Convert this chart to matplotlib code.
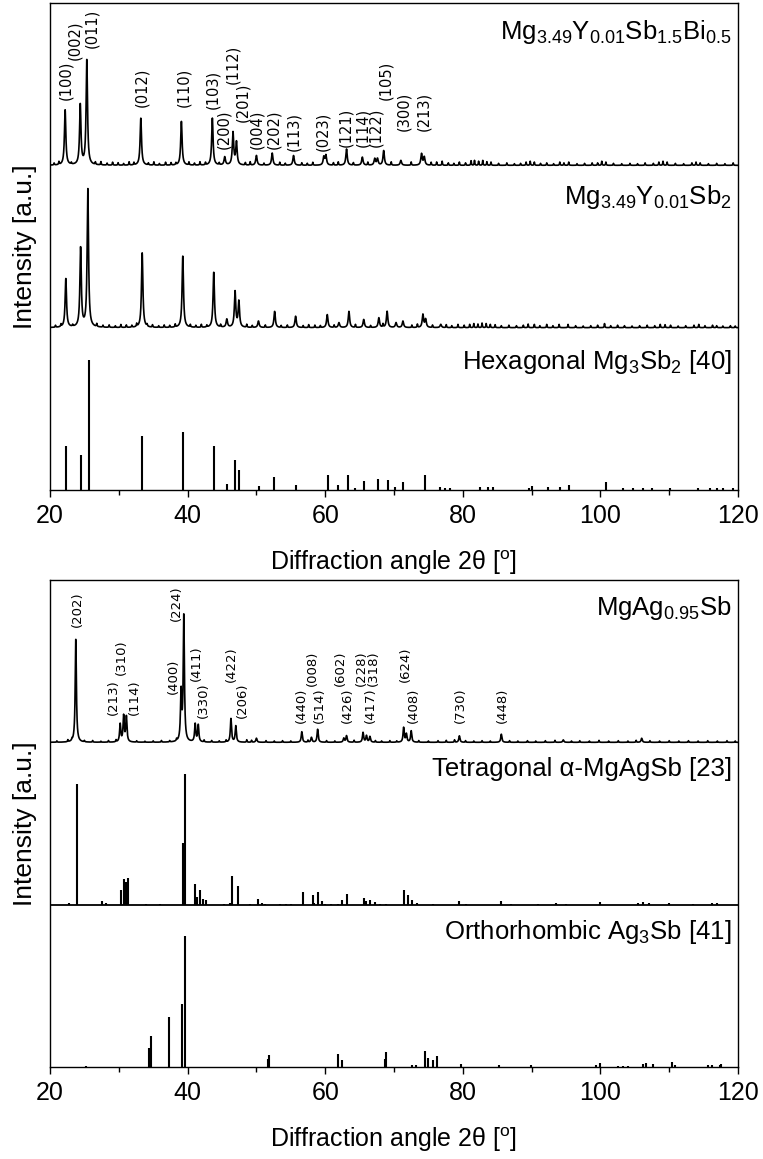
import numpy as np
import matplotlib
matplotlib.use("Agg")
import matplotlib.pyplot as plt

plt.rcParams['font.family'] = ['Liberation Sans', 'DejaVu Sans']
plt.rcParams['mathtext.fontset'] = 'custom'
plt.rcParams['mathtext.rm'] = 'Liberation Sans'
plt.rcParams['mathtext.it'] = 'Liberation Sans:italic'
plt.rcParams['mathtext.bf'] = 'Liberation Sans:bold'

# ---------------- data: top panel ----------------
# Mg3.49Y0.01Sb1.5Bi0.5 (measured)
bi_pos = [22.2, 24.4, 25.35, 33.2, 39.1, 43.6, 45.4, 46.6, 47.1, 50.0, 52.3, 55.4,
          59.8, 60.1, 63.1, 65.4, 67.2, 67.6, 68.5, 71.0, 74.0, 74.4]
bi_h = [0.34, 0.37, 0.65, 0.29, 0.27, 0.29, 0.05, 0.20, 0.14, 0.06, 0.075, 0.06,
        0.05, 0.06, 0.10, 0.05, 0.04, 0.04, 0.09, 0.03, 0.07, 0.05]
bi_noise_pos = [20.6, 21.3, 23.1, 26.6, 27.4, 28.3, 29.1, 29.9, 30.7, 31.5,
                32.2, 34.3, 35.1, 35.9, 36.8, 37.6, 38.3, 40.2, 41.0, 41.8,
                42.6, 44.6, 48.4, 49.1, 51.1, 53.4, 54.2, 56.6, 57.4, 58.2,
                61.2, 61.9, 64.1, 66.2, 69.6, 72.5, 75.4, 76.2, 77.0, 77.9,
                78.7, 79.5, 80.4, 81.2, 81.7, 82.3, 82.9, 83.5, 84.1, 85.2,
                86.4, 87.5, 88.4, 89.2, 89.8, 90.4, 91.3, 92.2, 93.2, 94.1,
                94.7, 95.4, 96.6, 97.7, 98.8, 99.6, 100.2, 100.8, 101.9, 103.1,
                104.3, 105.4, 106.5, 107.7, 108.5, 109.1, 109.7, 110.9, 112.1, 113.3,
                113.9, 114.5, 115.7, 116.9, 118.1, 119.3]
bi_noise_h = [0.012, 0.018, 0.010, 0.015, 0.020, 0.012, 0.018, 0.015, 0.010, 0.020,
              0.015, 0.012, 0.020, 0.010, 0.018, 0.015, 0.012, 0.018, 0.012, 0.020,
              0.015, 0.012, 0.015, 0.020, 0.012, 0.018, 0.012, 0.015, 0.012, 0.018,
              0.015, 0.020, 0.015, 0.018, 0.020, 0.020, 0.018, 0.020, 0.025, 0.015,
              0.012, 0.020, 0.015, 0.028, 0.030, 0.025, 0.030, 0.022, 0.020, 0.012,
              0.015, 0.010, 0.012, 0.020, 0.025, 0.020, 0.012, 0.015, 0.010, 0.020,
              0.015, 0.020, 0.010, 0.012, 0.015, 0.015, 0.025, 0.020, 0.012, 0.010,
              0.012, 0.010, 0.015, 0.012, 0.020, 0.025, 0.020, 0.012, 0.010, 0.015,
              0.020, 0.015, 0.010, 0.012, 0.010, 0.015]

# Mg3.49Y0.01Sb2 (measured)
sb_pos = [22.3, 24.45, 25.5, 33.4, 39.3, 43.8, 45.7, 46.9, 47.45, 50.3, 52.65, 55.7,
          60.3, 62.0, 63.45, 65.6, 67.8, 69.0, 70.3, 71.3, 74.2, 74.6, 76.8]
sb_h = [0.30, 0.49, 0.85, 0.46, 0.44, 0.34, 0.05, 0.22, 0.16, 0.04, 0.10, 0.07,
        0.08, 0.03, 0.10, 0.05, 0.06, 0.10, 0.03, 0.04, 0.08, 0.05, 0.02]
sb_noise_pos = [20.8, 21.6, 23.3, 26.8, 27.7, 28.6, 29.5, 30.3, 31.1, 31.9,
                32.6, 34.1, 34.9, 35.8, 36.6, 37.4, 38.2, 40.4, 41.2, 42.0,
                42.8, 44.8, 48.6, 49.4, 51.3, 53.6, 54.5, 56.8, 57.6, 58.5,
                59.3, 61.3, 64.4, 66.6, 68.4, 72.6, 73.4, 75.6, 77.6, 78.4,
                79.3, 80.2, 81.0, 81.6, 82.2, 82.8, 83.4, 84.0, 84.7, 85.6,
                86.7, 87.8, 88.8, 89.5, 90.4, 91.2, 92.2, 93.1, 94.0, 95.3,
                96.4, 97.5, 98.6, 99.6, 100.6, 101.5, 102.5, 103.5, 104.6, 105.7,
                106.8, 107.9, 108.7, 109.4, 110.2, 111.3, 112.4, 113.6, 114.3, 115.2,
                116.3, 116.9, 117.8, 118.9, 119.6]
sb_noise_h = [0.012, 0.015, 0.010, 0.018, 0.012, 0.015, 0.010, 0.018, 0.015, 0.012,
              0.018, 0.012, 0.015, 0.010, 0.015, 0.012, 0.018, 0.015, 0.012, 0.018,
              0.012, 0.015, 0.018, 0.012, 0.015, 0.012, 0.015, 0.012, 0.018, 0.015,
              0.012, 0.015, 0.018, 0.012, 0.020, 0.015, 0.020, 0.015, 0.018, 0.012,
              0.020, 0.015, 0.020, 0.025, 0.022, 0.028, 0.025, 0.020, 0.018, 0.012,
              0.015, 0.012, 0.015, 0.022, 0.020, 0.012, 0.020, 0.012, 0.020, 0.020,
              0.012, 0.010, 0.012, 0.015, 0.025, 0.012, 0.015, 0.012, 0.010, 0.012,
              0.015, 0.012, 0.020, 0.018, 0.015, 0.010, 0.012, 0.015, 0.020, 0.012,
              0.015, 0.012, 0.010, 0.012, 0.010]

# Hexagonal Mg3Sb2 reference [40]
hex_pos = [22.3, 24.5, 25.6, 33.3, 39.3, 43.8, 45.7, 46.9, 47.4, 50.4, 52.6, 55.8,
           60.4, 61.9, 63.3, 64.3, 65.7, 67.7, 69.1, 70.1, 71.3, 74.5, 76.7, 77.4,
           78.1, 82.5, 83.7, 84.4, 89.6, 90.0, 92.4, 94.1, 95.4, 100.8, 103.3, 104.7,
           106.2, 107.5, 110.1, 114.2, 115.9, 116.9, 117.8, 119.3]
hex_h = [0.27, 0.215, 0.80, 0.33, 0.36, 0.27, 0.04, 0.185, 0.125, 0.025, 0.08, 0.03,
         0.095, 0.03, 0.095, 0.01, 0.055, 0.065, 0.06, 0.02, 0.05, 0.09, 0.02, 0.015,
         0.01, 0.02, 0.02, 0.02, 0.015, 0.025, 0.02, 0.02, 0.03, 0.05, 0.01, 0.01,
         0.01, 0.01, 0.015, 0.01, 0.01, 0.01, 0.01, 0.015]

top_lbl = ['(100)', '(002)', '(011)', '(012)', '(110)', '(103)', '(200)', '(112)',
           '(201)', '(004)', '(202)', '(113)', '(023)', '(121)', '(114)', '(122)',
           '(105)', '(300)', '(213)']
top_lbl_x = [22.3, 23.6, 26.1, 33.4, 39.4, 43.7, 45.3, 46.6, 48.0, 50.1, 52.5, 55.4,
             59.6, 63.0, 65.4, 67.4, 68.8, 71.4, 74.3]
top_lbl_y = [2.40, 2.65, 2.72, 2.36, 2.36, 2.35, 2.10, 2.50, 2.27, 2.10, 2.10, 2.09,
             2.09, 2.11, 2.11, 2.11, 2.40, 2.21, 2.21]

# ---------------- data: bottom panel ----------------
# MgAg0.95Sb (measured)
mg_pos = [23.75, 30.2, 30.7, 31.1, 39.05, 39.45, 41.1, 41.55, 46.3, 47.0, 50.0, 56.6,
          58.0, 58.9, 62.7, 63.1, 65.5, 66.0, 66.5, 71.4, 71.8, 72.5, 79.5, 85.6,
          94.6, 106.0]
mg_h = [0.64, 0.11, 0.16, 0.155, 0.30, 0.78, 0.11, 0.105, 0.145, 0.10, 0.025, 0.065,
        0.03, 0.08, 0.025, 0.04, 0.06, 0.04, 0.035, 0.09, 0.05, 0.07, 0.04, 0.05,
        0.015, 0.025]
mg_noise_pos = [21.0, 22.6, 23.2, 25.0, 26.2, 27.4, 28.5, 29.6, 32.6, 33.8,
                35.0, 36.2, 37.4, 38.4, 42.4, 43.5, 44.6, 45.6, 48.6, 49.3,
                51.4, 52.6, 53.8, 55.0, 57.5, 60.2, 61.4, 64.2, 67.3, 68.2,
                69.4, 70.4, 73.6, 75.0, 76.4, 77.6, 78.8, 80.4, 81.6, 82.8,
                84.0, 86.8, 88.0, 89.4, 90.6, 92.0, 93.4, 95.8, 97.0, 98.4,
                99.8, 101.2, 102.6, 104.0, 105.2, 107.2, 108.6, 110.0, 111.4, 112.8,
                114.2, 115.6, 117.0, 118.4, 119.6]
mg_noise_h = [0.008, 0.012, 0.010, 0.008, 0.010, 0.006, 0.010, 0.012, 0.008, 0.006,
              0.008, 0.010, 0.008, 0.012, 0.012, 0.010, 0.008, 0.012, 0.015, 0.012,
              0.010, 0.008, 0.010, 0.008, 0.012, 0.010, 0.008, 0.012, 0.010, 0.008,
              0.010, 0.008, 0.010, 0.008, 0.010, 0.012, 0.015, 0.010, 0.008, 0.010,
              0.008, 0.010, 0.008, 0.010, 0.008, 0.010, 0.012, 0.008, 0.010, 0.008,
              0.012, 0.008, 0.010, 0.008, 0.012, 0.010, 0.008, 0.010, 0.008, 0.010,
              0.008, 0.010, 0.008, 0.010, 0.008]

# Tetragonal alpha-MgAgSb reference [23]
tet_pos = [22.8, 23.9, 27.5, 28.1, 30.3, 30.8, 31.0, 31.4, 34.0, 36.0, 39.3, 39.65,
           41.1, 41.4, 41.8, 42.2, 42.7, 45.3, 46.1, 46.5, 47.3, 49.1, 50.3, 50.8,
           51.2, 53.5, 54.3, 55.0, 56.8, 58.2, 58.4, 59.0, 59.5, 60.0, 60.8, 61.8,
           62.5, 63.1, 65.6, 65.9, 66.5, 67.2, 68.0, 68.9, 71.5, 72.1, 72.6, 73.3,
           75.7, 79.4, 80.5, 85.5, 87.0, 91.0, 93.6, 95.0, 99.9, 105.5, 106.2, 107.0,
           110.0, 113.5, 116.2, 117.0]
tet_h = [0.012, 0.745, 0.02, 0.01, 0.09, 0.16, 0.14, 0.165, 0.005, 0.005, 0.38, 0.805,
         0.13, 0.05, 0.09, 0.035, 0.03, 0.005, 0.01, 0.175, 0.115, 0.005, 0.037, 0.012,
         0.006, 0.005, 0.005, 0.005, 0.078, 0.058, 0.01, 0.08, 0.02, 0.005, 0.005, 0.005,
         0.03, 0.068, 0.04, 0.02, 0.03, 0.018, 0.005, 0.005, 0.09, 0.06, 0.03, 0.01,
         0.005, 0.02, 0.005, 0.02, 0.005, 0.005, 0.008, 0.005, 0.015, 0.01, 0.015, 0.01,
         0.008, 0.005, 0.008, 0.01]

# Orthorhombic Ag3Sb reference [41]
ag_pos = [25.2, 34.4, 34.7, 37.3, 39.25, 39.6, 47.0, 50.2, 51.7, 51.9, 56.4, 57.8,
          59.3, 61.8, 62.4, 63.5, 65.0, 66.0, 68.65, 68.9, 72.6, 73.2, 74.5, 75.0,
          75.6, 76.3, 79.7, 85.3, 89.9, 99.4, 99.9, 102.5, 103.3, 104.0, 106.2, 106.7,
          107.6, 110.4, 110.8, 115.7, 116.2, 117.4, 117.6]
ag_h = [0.005, 0.117, 0.19, 0.31, 0.39, 0.805, 0.003, 0.003, 0.052, 0.077, 0.003, 0.003,
        0.003, 0.08, 0.045, 0.003, 0.003, 0.003, 0.05, 0.095, 0.01, 0.015, 0.10, 0.055,
        0.045, 0.07, 0.02, 0.012, 0.01, 0.012, 0.025, 0.005, 0.005, 0.005, 0.02, 0.025,
        0.02, 0.03, 0.015, 0.01, 0.01, 0.015, 0.02]

bot_lbl = ['(202)', '(213)', '(310)', '(114)', '(400)', '(224)', '(411)', '(330)',
           '(422)', '(206)', '(440)', '(008)', '(514)', '(602)', '(426)', '(228)',
           '(318)', '(417)', '(624)', '(408)', '(730)', '(448)']
bot_lbl_x = [24.0, 29.2, 30.4, 32.2, 37.9, 38.3, 41.3, 42.3, 46.3, 48.0, 56.6, 58.2,
             59.2, 62.2, 63.2, 65.2, 67.0, 66.5, 71.6, 72.8, 79.6, 85.7]
bot_lbl_y = [2.71, 2.17, 2.415, 2.17, 2.30, 2.75, 2.38, 2.15, 2.37, 2.15, 2.12, 2.35,
             2.12, 2.35, 2.12, 2.35, 2.35, 2.12, 2.37, 2.12, 2.12, 2.12]

# ---------------- drawing ----------------
x = np.linspace(20, 120, 5001)


def profile(pos, h, gamma):
    y = np.zeros_like(x)
    for p, a in zip(pos, h):
        y += a / (1.0 + ((x - p) / gamma) ** 2)
    return y


W, H = 763, 1159
fig = plt.figure(figsize=(W / 100, H / 100), dpi=100)
ax1 = fig.add_axes([50 / W, (H - 490) / H, 688 / W, 487 / H])
ax2 = fig.add_axes([50 / W, (H - 1067) / H, 688 / W, 487 / H])

xlabel = "Diffraction angle 2θ [$^{\\rm o}$]"

for ax in (ax1, ax2):
    ax.set_xlim(20, 120)
    ax.set_ylim(0, 3)
    ax.set_xticks([20, 40, 60, 80, 100, 120])
    ax.set_xticks([30, 50, 70, 90, 110], minor=True)
    ax.set_yticks([])
    ax.tick_params(axis='x', which='major', direction='out', length=5, width=1.0,
                   labelsize=18, pad=5)
    ax.tick_params(axis='x', which='minor', direction='out', length=3.3, width=1.0)
    for s in ax.spines.values():
        s.set_linewidth(1.0)
    ax.set_xlabel(xlabel, fontsize=18)
    ax.xaxis.set_label_coords(0.5, -0.12)
    ax.set_ylabel("Intensity [a.u.]", fontsize=19)
    ax.yaxis.set_label_coords(-0.019, 0.5)

# top panel
y_bi = 2 + profile(bi_pos, bi_h, 0.12) + profile(bi_noise_pos, bi_noise_h, 0.05)
y_sb = 1 + profile(sb_pos, sb_h, 0.12) + profile(sb_noise_pos, sb_noise_h, 0.05)
ax1.plot(x, y_bi, color='black', lw=1.2)
ax1.plot(x, y_sb, color='black', lw=1.2)
ax1.vlines(hex_pos, 0, hex_h, color='black', lw=1.5)

for t, lx, ly in zip(top_lbl, top_lbl_x, top_lbl_y):
    ax1.text(lx, ly, t, rotation=90, ha='center', va='bottom', fontsize=10.5,
             family=['DejaVu Sans'])

ax1.text(119.1, 2.78, r"Mg$_{3.49}$Y$_{0.01}$Sb$_{1.5}$Bi$_{0.5}$", ha='right',
         va='baseline', fontsize=18.5)
ax1.text(119.1, 1.76, r"Mg$_{3.49}$Y$_{0.01}$Sb$_{2}$", ha='right',
         va='baseline', fontsize=18.5)
ax1.text(119.1, 0.745, r"Hexagonal Mg$_{3}$Sb$_{2}$ [40]", ha='right',
         va='baseline', fontsize=18.5)

# bottom panel
y_mg = 2 + profile(mg_pos, mg_h, 0.1) + profile(mg_noise_pos, mg_noise_h, 0.05)
ax2.plot(x, y_mg, color='black', lw=1.2)
ax2.hlines(1, 20, 120, color='black', lw=1.3)
ax2.vlines(tet_pos, 1, [1 + v for v in tet_h], color='black', lw=1.5)
ax2.vlines(ag_pos, 0, ag_h, color='black', lw=1.5)

for t, lx, ly in zip(bot_lbl, bot_lbl_x, bot_lbl_y):
    ax2.text(lx, ly, t, rotation=90, ha='center', va='bottom', fontsize=9.5,
             family=['DejaVu Sans'])

ax2.text(119.1, 2.785, r"MgAg$_{0.95}$Sb", ha='right', va='baseline', fontsize=18.5)
ax2.text(119.1, 1.79, "Tetragonal α-MgAgSb [23]", ha='right', va='baseline',
         fontsize=18.5)
ax2.text(119.1, 0.79, r"Orthorhombic Ag$_{3}$Sb [41]", ha='right', va='baseline',
         fontsize=18.5)

fig.savefig("out.png", dpi=100)
